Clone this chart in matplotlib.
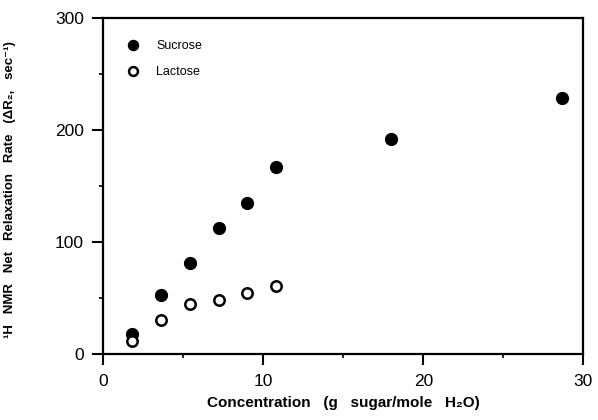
import numpy as np
import matplotlib.pyplot as plt
from matplotlib.ticker import MultipleLocator

plt.rcParams['font.family'] = ['Liberation Sans', 'DejaVu Sans']

# sugar concentration (g sugar / mole H2O)
sucrose_x = [1.8, 3.6, 5.45, 7.25, 9.0, 10.8, 18.0, 28.7]
sucrose_y = [18, 53, 82, 113, 135, 167, 192, 229]
lactose_x = [1.8, 3.6, 5.45, 7.25, 9.0, 10.8]
lactose_y = [12, 31, 45, 49, 55, 61]

x_ticks = [0, 10, 20, 30]
y_ticks = [0, 100, 200, 300]

fig = plt.figure(figsize=(5.98, 4.2), dpi=100)
ax = fig.add_axes([0.1727, 0.156, 0.8027, 0.8])

ax.plot(sucrose_x, sucrose_y, 'o', color='black', markersize=8.5, label='Sucrose')
ax.plot(lactose_x, lactose_y, 'o', markerfacecolor='white', markeredgecolor='black',
        markeredgewidth=1.8, markersize=7.5, label='Lactose')

ax.set_xlim(0, 30)
ax.set_ylim(0, 300)
ax.set_xticks(x_ticks)
ax.set_yticks(y_ticks)
ax.xaxis.set_minor_locator(MultipleLocator(5))
ax.yaxis.set_minor_locator(MultipleLocator(50))
ax.tick_params(which='major', direction='out', length=8, width=1.5, labelsize=12.5, pad=6)
ax.tick_params(which='minor', direction='out', length=3, width=1.2)
for s in ax.spines.values():
    s.set_linewidth(1.6)

ax.set_xlabel('Concentration   (g   sugar/mole   H\u2082O)', fontsize=11, fontweight='bold', va='top')
ax.xaxis.set_label_coords(0.5, -0.123)
ax.set_ylabel('\u00b9H   NMR   Net   Relaxation   Rate   (\u0394R\u2082,   sec\u207b\u00b9)', fontsize=9.5,
              fontweight='bold')
ax.yaxis.set_label_coords(-0.182, 0.49)

leg = ax.legend(loc='upper left', bbox_to_anchor=(0.035, 0.95), frameon=False, fontsize=9,
                handlelength=1.2, handletextpad=1.3, labelspacing=1.1, borderaxespad=0.0,
                markerscale=0.85)

fig.savefig('out.png', dpi=100)
